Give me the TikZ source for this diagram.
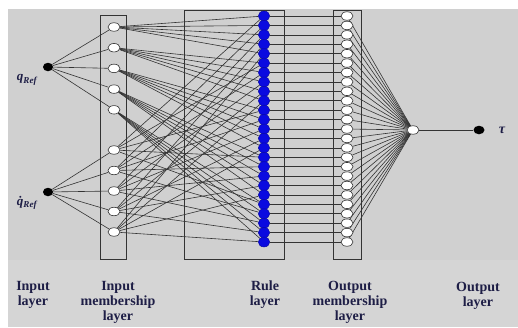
\documentclass[tikz,border=0pt]{standalone}
\usepackage{fontspec}
\setmainfont{Liberation Serif}
\usetikzlibrary{shapes.geometric,backgrounds}
\definecolor{panelgray}{HTML}{D0D0D0}
\definecolor{bandgray}{HTML}{D5D5D5}
\definecolor{wiregray}{HTML}{333333}
\definecolor{ruleblue}{HTML}{0A0AE0}
\definecolor{labelnavy}{HTML}{1E1E46}

\begin{document}
\begin{tikzpicture}[x=1pt, y=-1pt,
    every node/.style={font=\normalfont},
    wire/.style={wiregray, line width=.6pt},
    layerbox/.style={draw=wiregray, line width=.8pt},
    inpnode/.style={ellipse, fill=black, minimum width=10pt, minimum height=8.5pt, inner sep=0pt},
    mfnode/.style={ellipse, draw=wiregray, fill=white, line width=.6pt, minimum width=12pt, minimum height=8.5pt, inner sep=0pt},
    rulenode/.style={ellipse, draw=ruleblue!70!black, fill=ruleblue, line width=.4pt, minimum width=11.5pt, minimum height=10pt, inner sep=0pt},
    varlabel/.style={font=\bfseries\itshape\fontsize{13}{13}\selectfont, text=labelnavy, inner sep=0pt},
    caption/.style={font=\bfseries\fontsize{14}{15}\selectfont, text=labelnavy, align=center, anchor=north, inner sep=0pt},
]
    \useasboundingbox (0,0) rectangle (518,327);

    % input layer
    \node[inpnode] (qin) at (48,67) {};
    \node[inpnode] (qdin) at (48,192) {};
    \node[varlabel] (qlab) at (27,80) {q\textsubscript{Ref}};
    \node[varlabel] (qdlab) at (27,203) {\.{q}\textsubscript{Ref}};

    % input membership layer
    \foreach \i in {1,...,5} {
        \pgfmathsetmacro{\ya}{27+20.7*(\i-1)}
        \pgfmathsetmacro{\yb}{150+20.5*(\i-1)}
        \pgfmathtruncatemacro{\j}{\i+5}
        \node[mfnode] (mf\i) at (114,\ya) {};
        \node[mfnode] (mf\j) at (114,\yb) {};
    }

    % rule layer and output membership layer
    \foreach \k in {1,...,25} {
        \pgfmathsetmacro{\yk}{16+9.4167*(\k-1)}
        \node[rulenode] (rule\k) at (264,\yk) {};
        \node[mfnode] (omf\k) at (347,\yk) {};
    }

    % output layer
    \node[mfnode] (outsum) at (413,130) {};
    \node[inpnode, minimum width=11pt] (tau) at (479,130) {};
    \node[varlabel, font=\bfseries\itshape\fontsize{14}{14}\selectfont] (taulab) at (502,130) {τ};

    % captions
    \node[caption] (capin) at (33,281) {Input\\layer};
    \node[caption] (capmf) at (118,281) {Input\\membership\\layer};
    \node[caption] (caprule) at (265,281) {Rule\\layer};
    \node[caption] (capomf) at (350,281) {Output\\membership\\layer};
    \node[caption] (capout) at (478,282) {Output\\layer};

    \begin{scope}[on background layer]
        \fill[panelgray] (8,9) rectangle (518,260);
        \fill[bandgray] (8,260) rectangle (518,327);
        \draw[layerbox] (100,15) rectangle (126,259);
        \draw[layerbox] (184,10) rectangle (284,259);
        \draw[layerbox] (333,10) rectangle (361,259);

        \foreach \i in {1,...,5} {
            \pgfmathtruncatemacro{\j}{\i+5}
            \draw[wire] (qin) -- (mf\i);
            \draw[wire] (qdin) -- (mf\j);
            \foreach \m in {1,...,5} {
                \pgfmathtruncatemacro{\ka}{5*(\i-1)+\m}
                \pgfmathtruncatemacro{\kb}{5*(\m-1)+\i}
                \draw[wire] (mf\i) -- (rule\ka);
                \draw[wire] (mf\j) -- (rule\kb);
            }
        }
        \foreach \k in {1,...,25} {
            \draw[wire] (rule\k) -- (omf\k);
            \draw[wire] (omf\k) -- (outsum);
        }
        \draw[wire] (outsum) -- (tau);
    \end{scope}
\end{tikzpicture}
\end{document}
